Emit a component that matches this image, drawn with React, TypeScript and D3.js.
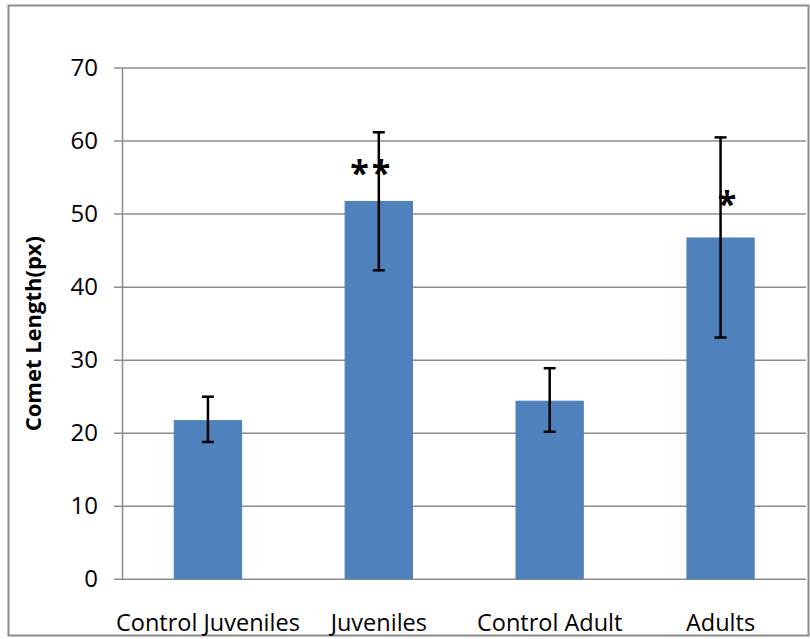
import React from "react";
import * as d3 from "d3";

const categories = ["Control Juveniles", "Juveniles", "Control Adult", "Adults"];
const means = [21.8, 51.8, 24.45, 46.8];
const errLow = [18.8, 42.3, 20.2, 33.1];
const errHigh = [25.0, 61.2, 28.9, 60.5];
const significance = ["", "**", "", "*"];
const yTicks = [0, 10, 20, 30, 40, 50, 60, 70];

const W = 810;
const H = 639;
const margin = { left: 122.5, right: 4, top: 68, bottom: 59.7 };

export default function App() {
  const x = d3
    .scaleBand<string>()
    .domain(categories)
    .range([margin.left, W - margin.right])
    .paddingInner(0.6)
    .paddingOuter(0.3);
  const y = d3.scaleLinear().domain([0, 70]).range([H - margin.bottom, margin.top]);
  const font = "'Open Sans', sans-serif";
  const bw = x.bandwidth();
  return (
    <svg
      width={W}
      height={H}
      style={{ position: "absolute", left: 0, top: 0, background: "#fff" }}
    >
      <rect x={8.5} y={5.5} width={800} height={630} fill="#fff" stroke="#8c8c8c" strokeWidth={2} />
      {yTicks.map((t) => (
        <g key={t}>
          <line
            x1={114}
            x2={W - margin.right}
            y1={y(t)}
            y2={y(t)}
            stroke="#8c8c8c"
            strokeWidth={1.5}
          />
          <text
            x={98}
            y={y(t) + 7.5}
            textAnchor="end"
            fontFamily={font}
            fontSize={24}
            fill="#000"
          >
            {t}
          </text>
        </g>
      ))}
      <line x1={margin.left} x2={margin.left} y1={y(70)} y2={y(0)} stroke="#8c8c8c" strokeWidth={1.5} />
      {categories.map((c, i) => {
        const cx = (x(c) as number) + bw / 2;
        return (
          <g key={c}>
            <rect x={x(c)} y={y(means[i])} width={bw} height={y(0) - y(means[i])} fill="#4f81bd" />
            <line x1={cx} x2={cx} y1={y(errHigh[i])} y2={y(errLow[i])} stroke="#000" strokeWidth={2.5} />
            <line x1={cx - 6} x2={cx + 6} y1={y(errHigh[i])} y2={y(errHigh[i])} stroke="#000" strokeWidth={2.5} />
            <line x1={cx - 6} x2={cx + 6} y1={y(errLow[i])} y2={y(errLow[i])} stroke="#000" strokeWidth={2.5} />
            <text
              x={cx}
              y={631}
              textAnchor="middle"
              fontFamily={font}
              fontSize={23.5}
              fill="#000"
            >
              {c}
            </text>
            {significance[i] && (
              <text
                x={cx + (significance[i].length === 1 ? 8 : -7)}
                y={y(means[i]) + (significance[i].length === 1 ? -21 : -16)}
                textAnchor="middle"
                fontFamily={font}
                fontSize={34}
                fontWeight="bold"
                letterSpacing={3}
                fill="#000"
              >
                {significance[i]}
              </text>
            )}
          </g>
        );
      })}
      <text
        transform={`translate(41, ${(y(0) + y(70)) / 2 + 10}) rotate(-90)`}
        textAnchor="middle"
        fontFamily={font}
        fontSize={22}
        fontWeight="bold"
        fill="#000"
      >
        Comet Length(px)
      </text>
    </svg>
  );
}
